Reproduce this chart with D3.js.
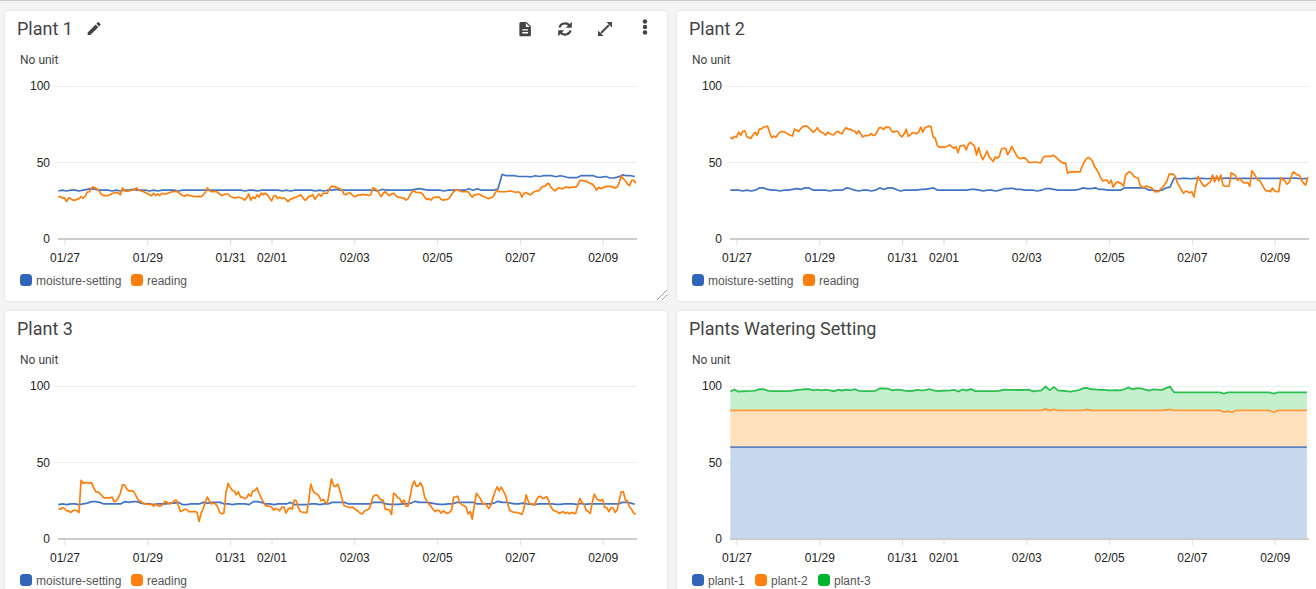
<!DOCTYPE html>
<html>
<head>
<meta charset="utf-8">
<title>Plants dashboard</title>
<script src="https://cdn.jsdelivr.net/npm/d3@7"></script>
<style>
  html, body { margin: 0; padding: 0; background: #f4f4f4; overflow: hidden; }
  svg { display: block; }
  .titulo { font: 18px Roboto, sans-serif; fill: #444; }
  .unidad { font: 12px Roboto, sans-serif; fill: #444; }
  .leyenda { font: 12px "Liberation Sans", sans-serif; fill: #555; }
  .eje text { font: 12px "Liberation Sans", sans-serif; fill: #222; }
</style>
</head>
<body>
<svg id="tablero" width="1316" height="589"></svg>
<script>
// Values: settings every 2.4 hours, readings every 1.2 hours
const tickLabels = ['01/27', '01/29', '01/31', '02/01', '02/03', '02/05', '02/07', '02/09'];
const yTicks = [0, 50, 100];

const plant1Setting = [
  31.5,32,31.5,32,32,31.5,32,32.5,33,32.5, 32,32,32,31.5,32,31.5,32,32,32.5,32,
  32,32,31.5,32,31.5,32,32,32,32,31.5, 32,32,32,32,32,32,32,32,32,32,
  32,32,32,32,32,31.5,32,32,31.5,32, 32,32,32,32,31.5,32,31.5,32,32,32,
  32,32,31.5,32,31.5,32,32,32.5,32,32, 32,32,32,32,32,32,32,31.5,32.5,32,
  32,32,32,32,32,32,32.5,33,32.5,32, 32,32,32,31.5,32,32,32,32,32,33,
  32,33,32,32,32,32,33,42.4,41.5,41.5, 41.5,41,41,41,40.8,41.5,41,41.5,41.5,41.5,
  40.8,41.5,41,40.2,40.2,40.2,41.5,41.5,41.5,41.5, 40.5,40.6,41,40,40,40.7,42,41.5,41.5,41
];
const plant1Reading = [
  27.3,28,26.8,27,24.5,27,26.5,25.5,25.5,26,26.5,27.7,26.8,28,30.8,31,33.5,34,33.4,32.5,
  31,29,28.4,28.4,28.4,29,29.8,30.3,30.5,30.2,29,33.6,31.5,31.3,31.5,31.8,32,32.8,33.4,31.8,
  31.5,31.2,30.5,29.8,29,28.3,30,28.5,29.5,28.5,30,29.5,29.5,30,30.5,31,31,31.5,30.5,29.5,
  28.5,28,29,28.5,28.5,28,28,27.8,28,27.7,29,30.5,33.5,32,31,31,31.5,30.5,29.5,28.5,
  29,29.5,29.5,28,27.5,27,27,27.5,27,26.5,25.5,27,29.5,25.5,27.5,26.5,29,27.5,30,29,
  30,29,27,25,28,28.5,26.5,27.5,26.5,27,26,24.5,26,26.5,27,27.5,28,29,27.5,25.5,
  26,28,28,29,26,28,29.5,28,30,30,30,33,34.5,34.5,34,33.5,33,32,29.5,29,
  30,30.3,29,27.7,28,29,28.8,29.3,29,29,28.5,29,33.5,33,32,30,27.8,30,31,29.5,
  28.5,29.5,30,28.5,27.5,27.3,27,26.8,25.5,26.5,29,31,31.5,30.5,30.5,30.5,29.5,27.5,26,26.5,
  25.5,27,27.5,27.5,27.5,26,25.5,25.8,26,27,29,31,32,32,31.5,31,31,31,31,29,
  27.5,29,29,29.5,29,28,27.5,27,26.5,27,27.5,30,32,31,31,31,31,31.2,31.5,31.3,
  31,30.5,31,30.5,27.5,30,30.5,29.5,29,30,31,31.5,31.5,33,34.5,34.5,36,36.5,34,32.5,
  31.5,33,33.5,33,33,34,34,33.5,34,34,34,35.5,38.5,38.5,38,38,37,36.5,36,34.5,
  32,34,33,33.5,34,34.5,34.5,34.5,34,33.5,34,37,41.5,39.5,38,36,35,38.5,38.5,36.5
];
const plant2Setting = [
  32,32,32,31.5,32,31.5,32,33.5,33.5,32.5, 32,32,31.5,32,32,32.5,33,32.5,33.5,33.5,
  32,32,32,32,31.5,32,32,32,33.5,33, 32,31.5,32,32,31.5,32,33.5,32.5,33.5,33.5,
  32.5,31.5,32,32,32,32,32.5,32.5,33,33.5, 32,32,32,32,32,32,32,32,32.5,32.5,
  32,31.5,32,32,31.5,32,33,33,33.3,32.5, 32.5,32,32,32,31.5,32,33,33,32.5,32,
  32,32,32,32,32.5,33.5,33,33,33.5,32.5, 32.5,32,32,32,32,33.5,33.5,33.5,33.5,33.5,
  33.5,32,32,31.5,32,33.5,34,40,39.5,39.8, 39.8,39.5,39.8,39.8,39.8,39.5,39.8,39.8,39.8,39.8,
  40,39.8,39.8,39.8,39.8,39.8,39.8,39.8,39.8,39.8, 39.8,39.8,39.8,39.8,39.8,39.8,40,39.8,39.5,39.8
];
const plant2Reading = [
  66.7,65.7,67.3,66.7,70,68,70.6,71,67,66.5,66,68.5,70,68,72,72,73.4,73.6,74,70,
  66.5,67.5,66.7,68.5,70,70.5,70.4,69.5,68.6,68,67.5,72,71.5,70.5,72.3,73.7,74,74,72.8,71.5,
  70,71,73,71,70,69.5,68,70,69,68.5,68.2,70,70.6,69.5,69,71.5,73,71.8,72,71,
  70.8,69,71,69,66.9,67.8,67.8,68,69,68,68.2,70.5,73,73,71.7,73.2,73.4,73,70.6,70,
  70.8,70.5,67.8,67,69,72,67.3,68.5,69.7,69.5,69,70,73.4,70,72.8,73.5,74,73.5,66.9,66,
  61.4,60.3,60.3,60.3,60.3,61,61.7,60.5,59.5,60.5,56.5,61,61.2,61.5,58.5,62,63.4,62,60.8,55,
  60,55,52,54.5,57.7,54,52.5,50.8,53.8,53,54.2,59,59.5,59.5,55.3,57.5,60.8,58,55.6,53.5,
  52.7,53,53.2,52.5,50.5,50,50.3,50.5,50.5,50,50,53,54.2,54.2,54.2,54.2,54.9,54,52.7,51.5,
  50.5,49.7,49.7,43,44,44,44.2,44,44,44,47.7,50.5,52.5,53.5,52.5,51,47.3,45.5,43,40,
  38,38.5,38.6,36.5,38.6,34,36.4,37.5,36.8,36.3,34.6,42,43.4,44,43,41,40.3,40,35.3,34,
  33.8,34.8,34.2,33.8,33,31,31,31,33,34,36,38,42.5,42.5,42.5,41,36.8,34.5,32,30,
  31.5,31,30.3,31,27.5,35,41,38.5,36,34.5,35.3,36.5,37.5,42,37.5,41.5,38,42,35.3,34.6,
  34.6,34.6,43.4,42.5,41.8,38.5,39.5,38.5,36.8,37,37,34.6,44.7,43,40.7,38.5,38,35.5,33,31.5,
  31.6,31,33.5,31.5,31,31,40.3,39,37.9,36,37,41,44,43,42,41.8,38.5,36.5,35.3,40.7
];
const plant3Setting = [
  22.5,23,22.5,23,23,22.5,23,23.5,24.5,24.5, 24,23,23,23,23,23,24.5,24,24.5,24.5,
  23.5,23,23,22.5,23,23,23,23.5,23.5,24, 22.5,22.5,23,23,23,24,23.5,24,24,24,
  23,23,22.5,23,23,23,22.5,24.5,24.5,24, 23,23,22.5,23,23,23,24,22.5,22.5,22.5,
  22.5,23,23,22.5,23,23,24,24,24,24, 23,23,23,23,23,23,24,24,24,23,
  22.7,22.7,22.7,23,23,23.5,24.7,24,24,24, 23.5,23,22.7,22.7,23,23,24,24,24,24,
  24,23,23,23,23,23.5,24.7,24,24,23.5, 23,23,23.5,23,22.7,22.7,23,23,23,23,
  22.7,22.7,23,23,23,22.7,23.3,22.7,23,23, 23,23,23,23,23,23,24,24,23.5,22.8
];
const plant3Reading = [
  20,19.5,20.5,20,18.5,18.5,17.4,18.5,19,18.5,17.4,38.5,36.5,37,37,36.5,37,34,31,31,
  30,28.5,27,27,27,27,27.5,24.5,25,27,30,35.5,35.5,33,31.5,31.5,31.5,30,27,25,
  24.5,23.5,23,22.8,22.5,23,21.5,23,22,21.5,22,24,24.5,23.5,23,23.8,25,25.5,22,18,
  18.5,19.5,19.5,18,18,18,18,17.5,11.5,17,20,24,27.5,25,23,23.5,23,21,17.5,16.5,
  17,30,36.5,34,32,31.5,29,31,27.5,27.5,26.5,27,29.5,28,31.6,31.8,33.5,30,27,24.5,
  22,21.5,21.5,21,19,20,19.5,18.5,21,21,17,19.5,20.5,19.5,25.5,25,20.5,18,17.5,17.5,
  17,25,36,32,30,29.5,28,25,26,24,23.5,31,39.5,35,34.5,36,32,27,22,21.5,
  21,20.5,21,20,19,18,16.8,16.5,18.5,19,19.6,22.5,27.7,28.8,28.8,27,25.5,25.5,19.4,19.5,
  19,16,30,29,27,26.5,23.7,25.5,21.5,21.5,28,35,38,34.5,35,37,34,27.5,25,23,
  21.6,19.5,18,19,18.5,17,18.5,17.5,16.8,17.5,19,27.5,27.7,28,23.5,22.5,21.8,21,16.5,18,
  13,22,30,28,26.5,23,23.3,22,20,22,27,31,34.2,31.5,34,31.5,28.8,24,19,18,
  17.5,17.5,17.2,16.8,16,20,29,25,23,23,22.2,25.5,27.7,28,26.6,27,27.7,25,21,19,
  18.3,18,16.8,17.5,17.9,16.8,17.5,16.5,17.5,16.8,16.8,22,26.6,24,23,19,18,16.8,24,29.5,
  26.6,25.5,25,26,20.7,20.5,17.9,20.5,20.5,17.5,19,25.5,30.9,31,25.5,25,21,19.5,16.8,16.5
];
const wateringPlant1 = [
  60.2,60.2,60.2,60.2,60.2,60.2,60.2,60.2,60.2,60.2, 60.2,60.2,60.2,60.2,60.2,60.2,60.2,60.2,60.2,60.2,
  60.2,60.2,60.2,60.2,60.2,60.2,60.2,60.2,60.2,60.2, 60.2,60.2,60.2,60.2,60.2,60.2,60.2,60.2,60.2,60.2,
  60.2,60.2,60.2,60.2,60.2,60.2,60.2,60.2,60.2,60.2, 60.2,60.2,60.2,60.2,60.2,60.2,60.2,60.2,60.2,60.2,
  60.2,60.2,60.2,60.2,60.2,60.2,60.2,60.2,60.2,60.2, 60.2,60.2,60.2,60.2,60.2,60.2,60.2,60.2,60.2,60.2,
  60.2,60.2,60.2,60.2,60.2,60.2,60.2,60.2,60.2,60.2, 60.2,60.2,60.2,60.2,60.2,60.2,60.2,60.2,60.2,60.2,
  60.2,60.2,60.2,60.2,60.2,60.2,60.2,60.2,60.2,60.2, 60.2,60.2,60.2,60.2,60.2,60.2,60.2,60.2,60.2,60.2,
  60.2,60.2,60.2,60.2,60.2,60.2,60.2,60.2,60.2,60.2, 60.2,60.2,60.2,60.2,60.2,60.2,60.2,60.2,60.2,60.2
];
const wateringPlant2 = [
  24.1,24.1,24.1,24.1,24.1,24.1,24.1,24.1,24.1,24.1, 24.1,24.1,24.1,24.1,24.1,24.1,24.1,24.1,24.1,24.1,
  24.1,24.1,24.1,24.1,24.1,24.1,24.1,24.1,24.1,24.1, 24.1,24.1,24.1,24.1,24.1,24.1,24.1,24.1,24.1,24.1,
  24.1,24.1,24.1,24.1,24.1,24.1,24.1,24.1,24.1,24.1, 24.1,24.1,24.1,24.1,24.1,24.1,24.1,24.1,24.1,24.1,
  24.1,24.1,24.1,24.1,24.1,24.1,24.1,24.1,24.1,24.1, 24.1,24.1,24.1,24.1,24.1,24.1,25,24.1,24.8,24.1,
  24.1,24.1,24.1,24.1,24.1,24.1,24.8,24.1,24.1,24.1, 24.1,24.1,24.1,24.1,24.1,24.1,24.1,24.1,24.1,24.1,
  24.1,24.1,24.1,24.1,24.1,24.4,24.8,24.1,24.1,24.1, 24.1,24.1,24.1,24.1,24.1,24.1,24.1,24.1,24.1,23.1,
  23.6,22.9,24.1,24.1,24.1,24.1,24.1,24.1,24.1,24.1, 24.1,22.9,24.1,24.1,24.1,24.1,24.1,24.1,24.1,24.1
];
const wateringPlant3 = [
  12.4,13.8,12.4,12.6,12.7,12.8,13,13.9,13.9,13, 12.7,12.7,12.7,12.7,12.7,13,13.4,13.6,13.9,14,
  13.2,13.7,13.2,13.6,13.2,12.6,13.5,13.1,13.7,13.2, 13.9,12.8,12.7,12.7,12.7,12.8,14.4,14.4,14.3,13.2,
  13.7,13.5,13,12.7,12.9,13.5,13.1,13.3,13.9,13.2, 12.7,12.9,13,13.2,13.5,12.4,13.8,13.1,14,12.7,
  12.7,12.7,12.7,12.7,12.7,13,13.7,13.5,13.5,13.4, 13.4,13.5,13.6,12.6,12.8,13.1,14.8,13.3,14.6,13.1,
  12.9,12.6,12.4,12.8,13.3,14.4,14.1,13.9,13.8,13.5, 13.7,13.1,13.2,13.3,13.2,13.9,15.1,13.9,14.6,14.5,
  13.6,13,13.8,13.6,13.3,14.3,14.9,11.8,11.8,11.8, 11.8,11.8,11.8,11.8,11.8,11.8,11.8,11.8,11.8,12.1,
  12.4,13,11.8,11.8,11.8,11.8,11.8,11.8,11.8,11.8, 11.8,12.2,11.8,11.8,11.8,11.8,11.8,11.8,11.8,11.8
];

const AZUL = '#3065b9';
const NARANJA = '#ff7f0e';
const VERDE = '#00b32c';
const PRIMER_DATO = Date.UTC(2021, 0, 26, 20, 24);
const HORA_MS = 3600 * 1000;
const PASO_SETTING = 2.405 * HORA_MS;
const PASO_READING = 1.2 * HORA_MS;

const parseTick = d3.utcParse('%Y/%m/%d');
const formatTick = d3.utcFormat('%m/%d');
const tickDates = tickLabels.map((t) => parseTick('2021/' + t));
const fechasSetting = plant1Setting.map((_, i) => new Date(PRIMER_DATO + i * PASO_SETTING));

const svg = d3.select('#tablero');
svg.append('rect').attr('width', 1316).attr('height', 1).attr('fill', '#ccc');

const xBase = d3.scaleUtc()
  .domain([new Date(PRIMER_DATO), new Date(Date.UTC(2021, 1, 9, 19, 55))])
  .range([58.3, 637]);
const yBase = d3.scaleLinear().domain([0, 100]).range([239, 86.5]);

function marco(dx, dy, ancho, titulo, unidad) {
  const g = svg.append('g').attr('transform', `translate(${dx},${dy})`);
  g.append('rect')
    .attr('x', 5).attr('y', 11).attr('rx', 4)
    .attr('width', ancho).attr('height', 290)
    .attr('fill', '#fff')
    .style('filter', 'drop-shadow(0 0 1px rgba(0,0,0,.12))');
  g.append('text').attr('class', 'titulo').attr('x', 17).attr('y', 35).text(titulo);
  g.append('text').attr('class', 'unidad').attr('x', 20).attr('y', 64).text(unidad);

  // grid and axes
  g.append('g').selectAll('line').data(yTicks.filter((d) => d > 0)).join('line')
    .attr('x1', 54).attr('x2', 637)
    .attr('y1', (d) => Math.floor(yBase(d)) + 0.5).attr('y2', (d) => Math.floor(yBase(d)) + 0.5)
    .attr('stroke', '#eee');

  const ejeY = g.append('g').attr('class', 'eje')
    .attr('transform', 'translate(50,0)')
    .call(d3.axisLeft(yBase).tickValues(yTicks).tickSize(0).tickPadding(0));
  ejeY.select('.domain').remove();
  ejeY.selectAll('text').attr('dy', '0.27em');

  const ejeX = g.append('g').attr('class', 'eje')
    .attr('transform', 'translate(0,239)')
    .call(d3.axisBottom(xBase).tickValues(tickDates).tickFormat(formatTick).tickSize(6).tickPadding(6));
  ejeX.select('.domain').remove();
  ejeX.selectAll('line').attr('stroke', '#ddd');
  ejeX.selectAll('text').attr('dy', '0.95em');
  return g;
}

function ejeBase(g) {
  g.append('line')
    .attr('x1', 58).attr('x2', 637).attr('y1', 239).attr('y2', 239)
    .attr('stroke', '#ccc').attr('stroke-width', 2);
}

function leyenda(g, items, posiciones) {
  const it = g.append('g').selectAll('g').data(items).join('g')
    .attr('transform', (d, i) => `translate(${posiciones[i]},0)`);
  it.append('rect')
    .attr('x', 0).attr('y', 274).attr('width', 12).attr('height', 12).attr('rx', 3.5)
    .attr('fill', (d) => d.color);
  it.append('text').attr('class', 'leyenda').attr('x', 16).attr('y', 285).text((d) => d.nombre);
}

const linea = d3.line().x((d) => xBase(d.t)).y((d) => yBase(d.v));

function panelLineas(dx, dy, ancho, titulo, setting, reading) {
  const g = marco(dx, dy, ancho, titulo, 'No unit');
  ejeBase(g);
  [[setting, '#4174c2', PASO_SETTING], [reading, NARANJA, PASO_READING]].forEach(([serie, color, paso]) => {
    g.append('path')
      .datum(serie.map((v, i) => ({ t: new Date(PRIMER_DATO + i * paso), v })))
      .attr('d', linea)
      .attr('fill', 'none')
      .attr('stroke', color)
      .attr('stroke-width', 1.7)
      .attr('stroke-linejoin', 'round');
  });
  leyenda(g, [{ nombre: 'moisture-setting', color: AZUL }, { nombre: 'reading', color: NARANJA }], [20, 131]);
  return g;
}

function panelApilado(dx, dy, ancho, titulo) {
  const g = marco(dx, dy, ancho, titulo, 'No unit');
  const filas = fechasSetting.map((t, i) => ({
    t,
    p1: wateringPlant1[i],
    p2: wateringPlant2[i],
    p3: wateringPlant3[i]
  }));
  const capas = d3.stack().keys(['p1', 'p2', 'p3'])(filas);
  const rellenos = ['#c6d8ee', '#ffe0bf', '#c5f0cc'];
  const bordes = ['#5d83c2', '#ff9a3c', '#2cbf52'];
  const area = d3.area()
    .x((d) => xBase(d.data.t)).y0((d) => yBase(d[0])).y1((d) => yBase(d[1]));
  const borde = d3.line().x((d) => xBase(d.data.t)).y((d) => yBase(d[1]));

  g.selectAll('path.capa').data(capas).join('path')
    .attr('class', 'capa')
    .attr('d', area)
    .attr('fill', (d, i) => rellenos[i]);
  g.selectAll('path.borde').data(capas).join('path')
    .attr('class', 'borde')
    .attr('d', borde)
    .attr('fill', 'none')
    .attr('stroke', (d, i) => bordes[i])
    .attr('stroke-width', 1.8);
  ejeBase(g);
  leyenda(g, [
    { nombre: 'plant-1', color: AZUL },
    { nombre: 'plant-2', color: NARANJA },
    { nombre: 'plant-3', color: VERDE }
  ], [20, 83, 146]);
}

const primero = panelLineas(0, 0, 662, 'Plant 1', plant1Setting, plant1Reading);
panelLineas(672, 0, 662, 'Plant 2', plant2Setting, plant2Reading);
panelLineas(0, 300, 662, 'Plant 3', plant3Setting, plant3Reading);
panelApilado(672, 300, 662, 'Plants Watering Setting');

// toolbar icons of the first widget
const iconos = primero.append('g').attr('fill', '#444');
iconos.append('path').attr('transform', 'translate(85.5,20) scale(.72)')
  .attr('d', 'M3 17.25V21h3.75L17.81 9.94l-3.75-3.75L3 17.25zM20.71 7.04a1 1 0 0 0 0-1.41l-2.34-2.34a1 1 0 0 0-1.41 0l-1.83 1.83 3.75 3.75 1.83-1.83z');
iconos.append('path').attr('transform', 'translate(516.5,20.5) scale(.72)')
  .attr('d', 'M14 2H6c-1.1 0-2 .9-2 2v16c0 1.1.9 2 2 2h12c1.1 0 2-.9 2-2V8l-6-6zm2 16H8v-2h8v2zm0-4H8v-2h8v2zm-3-5V3.5L18.5 9H13z');
const refresco = primero.append('g').attr('transform', 'translate(565,29)');
refresco.append('path').attr('d', 'M-5.6 -1.5A6 6 0 0 1 4.6 -3.6M5.6 1.5A6 6 0 0 1 -4.6 3.6')
  .attr('fill', 'none').attr('stroke', '#444').attr('stroke-width', 2.2);
refresco.append('path').attr('d', 'M6.8 -7.2V-1.2H0.8ZM-6.8 7.2V1.2H-0.8Z').attr('fill', '#444');
const expandir = primero.append('g').attr('transform', 'translate(605,29)');
expandir.append('path').attr('d', 'M-4 4L4 -4').attr('stroke', '#444').attr('stroke-width', 2);
expandir.append('path').attr('d', 'M1.5 -7H7V-1.5ZM-1.5 7H-7V1.5Z').attr('fill', '#444');
iconos.selectAll('circle').data([21.5, 27, 32.5]).join('circle')
  .attr('cx', 645).attr('cy', (d) => d).attr('r', 2.2);

// resize handle
primero.append('path').attr('d', 'M657 300L667 290M662 300L667 295')
  .attr('stroke', '#999').attr('stroke-width', 1).attr('fill', 'none');
</script>
</body>
</html>
